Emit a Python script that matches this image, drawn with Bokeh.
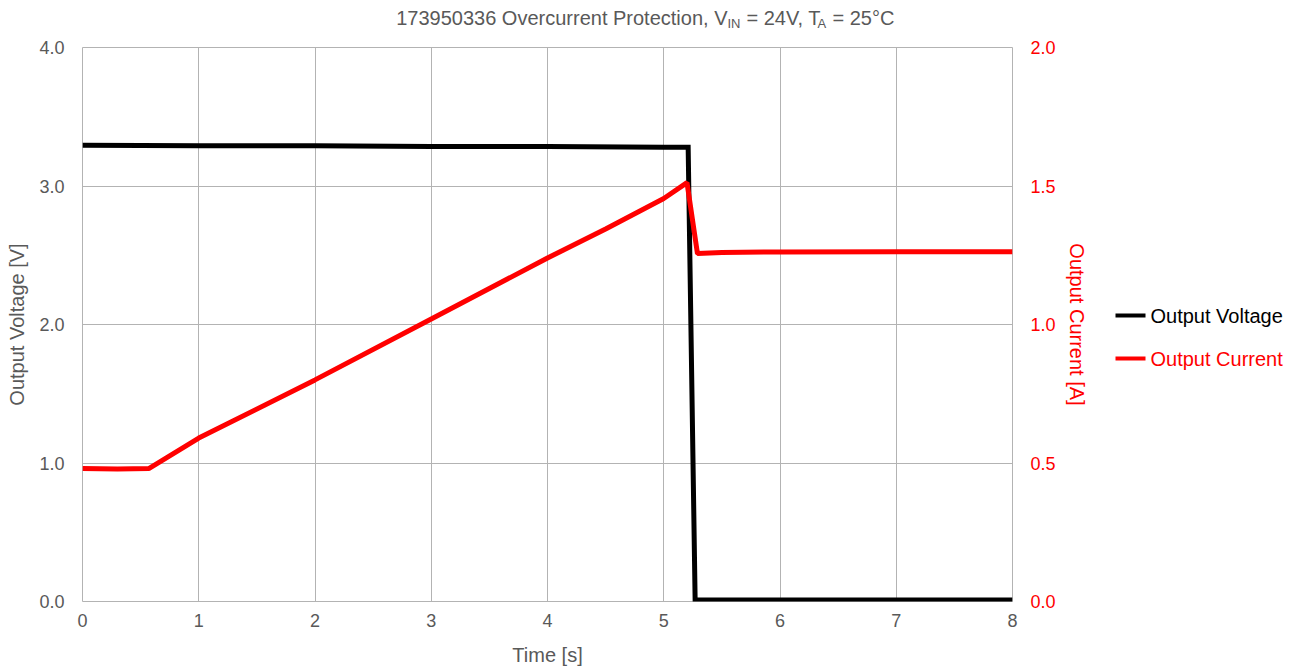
from bokeh.plotting import figure
from bokeh.layouts import column, row
from bokeh.models import Range1d, LinearAxis, Label, FixedTicker, NumeralTickFormatter
from bokeh.embed import file_html
from bokeh.resources import INLINE

# ---- data ----
time_v = [0, 1, 2, 3, 4, 5, 5.2, 5.21, 5.27, 6, 7, 8]
voltage = [3.295, 3.29, 3.29, 3.285, 3.285, 3.28, 3.28, 3.28, 0.01, 0.01, 0.01, 0.01]

time_i = [0, 0.3, 0.57, 1, 2, 3, 4, 4.5, 5, 5.2, 5.29, 5.5, 6, 7, 8]
current = [0.48, 0.478, 0.48, 0.59, 0.80, 1.02, 1.24, 1.345, 1.455, 1.512, 1.256, 1.26, 1.262, 1.263, 1.263]

x_ticks = [0, 1, 2, 3, 4, 5, 6, 7, 8]
v_ticks = [0.0, 1.0, 2.0, 3.0, 4.0]
i_ticks = [0.0, 0.5, 1.0, 1.5, 2.0]

series_names = ["Output Voltage", "Output Current"]
series_colors = ["black", "#ff0000"]

FONT = "Liberation Sans"
GRAY = "#595959"
RED = "#ff0000"
GRID = "#b3b3b3"

TOTAL_W, TOTAL_H = 1290, 669
TITLE_H = 30
MAIN_W = 1095
FL, FT, FR, FB = 82, 47, 1012, 601   # frame edges in page px


def blank_fig(w, h, xr, yr):
    f = figure(width=w, height=h, output_backend="svg", toolbar_location=None,
               x_range=xr, y_range=yr, x_axis_location=None, y_axis_location=None,
               min_border=0, min_border_left=0, min_border_right=0,
               min_border_top=0, min_border_bottom=0)
    f.outline_line_color = None
    f.grid.visible = False
    return f


# ---- title strip (page pixel coordinates) ----
tf = blank_fig(TOTAL_W, TITLE_H, Range1d(0, TOTAL_W), Range1d(TITLE_H, 0))


def lab(fig, text, page_x, page_y, size, align, color=GRAY):
    fig.add_layout(Label(x=page_x, y=page_y, text=text, text_font=FONT, text_font_size=size,
                         text_color=color, text_align=align, text_baseline="middle"))


lab(tf, "173950336 Overcurrent Protection, V", 727, 17, "20px", "right")
lab(tf, "IN", 727, 23, "13px", "left")
lab(tf, "= 24V, T", 746, 17, "20px", "left")
lab(tf, "A", 817, 23, "13px", "left")
lab(tf, "= 25°C", 832, 17, "20px", "left")

# ---- main chart ----
MH = TOTAL_H - TITLE_H
p = figure(width=MAIN_W, height=MH, output_backend="svg", toolbar_location=None,
           x_range=Range1d(0, 8), y_range=Range1d(0, 4),
           min_border_left=FL, min_border_right=MAIN_W - FR,
           min_border_top=FT - TITLE_H, min_border_bottom=TOTAL_H - FB)
p.extra_y_ranges = {"cur": Range1d(0, 2)}

p.outline_line_color = GRID
p.outline_line_width = 1
p.xgrid.grid_line_color = GRID
p.ygrid.grid_line_color = GRID

xax = p.xaxis[0]
lax = p.yaxis[0]
xax.ticker = FixedTicker(ticks=x_ticks)
lax.ticker = FixedTicker(ticks=v_ticks)
lax.formatter = NumeralTickFormatter(format="0.0")

rax = LinearAxis(y_range_name="cur", ticker=FixedTicker(ticks=i_ticks),
                 formatter=NumeralTickFormatter(format="0.0"))
p.add_layout(rax, "right")

for ax, col in ((xax, GRAY), (lax, GRAY), (rax, RED)):
    ax.axis_line_color = None
    ax.major_tick_line_color = None
    ax.minor_tick_line_color = None
    ax.major_tick_out = 0
    ax.major_tick_in = 0
    ax.minor_tick_out = 0
    ax.minor_tick_in = 0
    ax.major_label_text_font = FONT
    ax.major_label_text_font_size = "18px"
    ax.major_label_text_color = col
    ax.axis_label_text_font = FONT
    ax.axis_label_text_font_size = "20px"
    ax.axis_label_text_font_style = "normal"
    ax.axis_label_text_color = col

xax.axis_label = "Time [s]"
lax.axis_label = "Output Voltage [V]"
rax.axis_label = "Output Current [A]"
xax.major_label_standoff = 12
xax.axis_label_standoff = 14
lax.major_label_standoff = 18
lax.axis_label_standoff = 8
rax.major_label_standoff = 18
rax.axis_label_standoff = 7

p.line(time_v, voltage, line_color=series_colors[0], line_width=5, line_join="miter")
p.line(time_i, current, line_color=series_colors[1], line_width=5, y_range_name="cur")

# ---- legend strip (its frame is aligned with the main frame: page y 47..601) ----
LW = TOTAL_W - MAIN_W
lf = blank_fig(LW, MH, Range1d(MAIN_W, TOTAL_W), Range1d(FB, FT))
legend_y = [315, 358]
lf.segment(x0=[1115, 1115], y0=legend_y, x1=[1145, 1145], y1=legend_y,
           line_color=series_colors, line_width=4)
for name, col, yy in zip(series_names, series_colors, legend_y):
    lab(lf, name, 1150, yy, "20px", "left", color=col)

layout = column(tf, row(p, lf, spacing=0), spacing=0)
open("out.html", "w").write(file_html(layout, INLINE))
